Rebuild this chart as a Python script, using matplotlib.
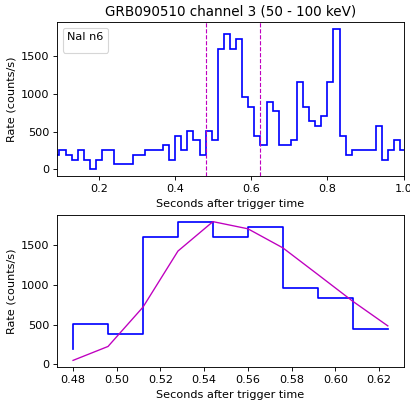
import numpy as np
import matplotlib
matplotlib.use("Agg")
import matplotlib.pyplot as plt

# ---- data ----
bin_width = 0.016
first_bin = 5  # first bin starts at 5*0.016 = 0.08 s
top_rates = [192, 256, 192, 128, 256, 128, 0, 128, 256, 256,
             64, 64, 64, 192, 192, 256, 256, 256, 320, 128,
             448, 256, 512, 384, 192, 512, 384, 1600, 1792, 1600,
             1728, 960, 832, 448, 320, 896, 768, 320, 320, 384,
             1152, 832, 640, 576, 704, 1152, 1856, 448, 192, 256,
             256, 256, 256, 576, 128, 256, 384, 256]

zoom_t = [0.480, 0.496, 0.512, 0.528, 0.544, 0.560, 0.576, 0.592, 0.608, 0.624]
zoom_rates = [192, 512, 384, 1600, 1792, 1600, 1728, 960, 832, 448]
fit_rates = [50, 225, 720, 1425, 1795, 1705, 1465, 1130, 793, 484]

interval = [0.48, 0.624]
title = "GRB090510 channel 3 (50 - 100 keV)"
det_label = "NaI n6"
xlabel = "Seconds after trigger time"
ylabel = "Rate (counts/s)"

# ---- plot ----
DPI = 81
fig = plt.figure(figsize=(410 / DPI, 401 / DPI), dpi=DPI)
ax1 = fig.add_axes([0.1398, 0.5603, 0.8444, 0.384])
ax2 = fig.add_axes([0.1398, 0.084, 0.8444, 0.3806])

edges = (np.arange(len(top_rates) + 1) + first_bin) * bin_width
ax1.stairs(top_rates, edges, color='b', linewidth=1.5, baseline=None)
for t in interval:
    ax1.axvline(t, color='m', linestyle='--', linewidth=1)
ax1.set_xlim(0.0904, 1.0)
ax1.set_ylim(-0.05 * max(top_rates), 1.05 * max(top_rates))
ax1.set_yticks([0, 500, 1000, 1500])
ax1.set_xticks([0.2, 0.4, 0.6, 0.8, 1.0])
ax1.set_title(title)
ax1.set_xlabel(xlabel)
ax1.set_ylabel(ylabel)
ax1.legend(handles=[], title=det_label, loc='upper left')

ax2.step(zoom_t, zoom_rates, where='pre', color='b', linewidth=1.5)
ax2.plot(zoom_t, fit_rates, color='m', linewidth=1.2)
ax2.set_xlabel(xlabel)
ax2.set_ylabel(ylabel)
ax2.set_yticks([0, 500, 1000, 1500])

fig.savefig("out.png", dpi=DPI)
